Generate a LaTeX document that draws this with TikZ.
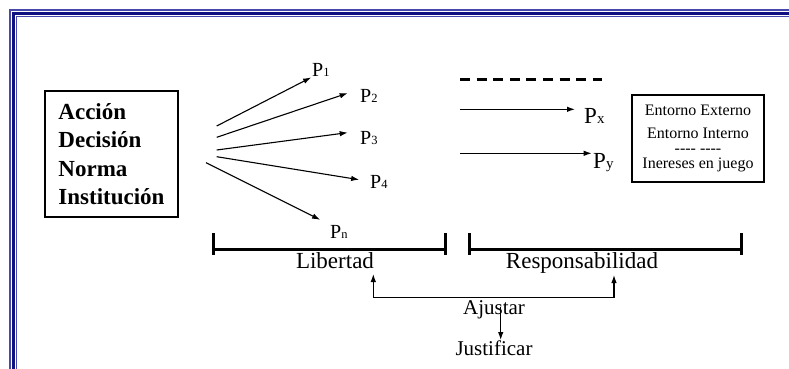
\documentclass[tikz,border=0pt]{standalone}
\usepackage{fontspec}
\setmainfont{Liberation Serif}
\usetikzlibrary{arrows.meta}
\definecolor{framenavy}{RGB}{16,16,128}
\definecolor{framelite}{RGB}{72,72,170}
\newcommand\psub[2][12.5]{{\fontsize{#1}{#1}\selectfont #2}}
\tikzset{
  >={Latex[length=8pt,width=5.5pt]},
  link/.style={->,line width=1.1pt},
  plabel/.style={inner sep=0pt,anchor=base west,font=\fontsize{20}{20}\selectfont},
  bigp/.style={plabel,font=\fontsize{23}{23}\selectfont},
  wlabel/.style={inner sep=0pt,anchor=base,font=\fontsize{23}{23}\selectfont},
  slabel/.style={wlabel,font=\fontsize{21}{21}\selectfont},
  srcbox/.style={draw,line width=1.3pt,inner sep=0pt,minimum width=133pt,minimum height=126pt,
    align=left,font=\bfseries\fontsize{23}{28.3}\selectfont},
  envbox/.style={draw,line width=1.3pt,inner sep=0pt,minimum width=132pt,minimum height=87pt,
    align=center,font=\fontsize{16}{23.3}\selectfont},
  bar/.style={line width=3pt}
}
\begin{document}
\begin{tikzpicture}[x=1pt,y=-1pt]
\useasboundingbox (0,0) rectangle (789,369);
\draw[framelite,line width=2pt] (10,369)--(10,10)--(789,10);
\draw[framenavy,line width=3.5pt] (13.6,369)--(13.6,13.6)--(789,13.6);
\draw[framelite,line width=1.3pt] (16.8,369)--(16.8,16.8)--(789,16.8);

\node[srcbox] (src) at (111.5,154) {Acción\\Decisión\\Norma\\Institución};
\node[envbox] (env) at (698,138.5) {Entorno Externo\\Entorno Interno\\[-8.3pt]{-}{-}{-}{-} {-}{-}{-}{-}\\[-8.3pt]Inereses en juego};

\node[plabel] (p1) at (312,77) {P\psub{1}};
\node[plabel] (p2) at (360,102.3) {P\psub{2}};
\node[plabel] (p3) at (360,144.3) {P\psub{3}};
\node[plabel] (p4) at (370,188) {P\psub{4}};
\node[plabel] (pn) at (330,238) {P\psub{n}};
\node[bigp] (px) at (584,123) {P\psub[15]{x}};
\node[bigp] (py) at (593,168) {P\psub[15]{y}};

\foreach \n/\x/\y in {1/216.7/126,2/216.7/137.3,3/216.7/150,4/216.7/156.7,n/206/162.7}{
  \coordinate (s\n) at (\x,\y);
}
\foreach \n/\a/\s in {1/base west/1,2/north west/13,3/north west/12.4,4/west/11,n/north west/11}{
  \draw[link,shorten >=\s pt] (s\n) -- (p\n.\a);
}
\coordinate (sx) at (460,109.3);
\coordinate (sy) at (460,153.3);
\draw[link,shorten >=9pt] (sx) -- (sx -| px.west);
\draw[link,shorten >=1.3pt] (sy) -- (sy -| py.west);
\draw[line width=3pt,dash pattern=on 10pt off 6.6pt] (460,79) -- (602,79);

\foreach \a/\b in {213/445,469.3/741.7}{
  \draw[bar] (\a,233) -- (\a,255) (\a,249.3) -- (\b,249.3) (\b,233) -- (\b,255);
}
\node[wlabel] (lib) at (335,268) {Libertad};
\node[wlabel] (resp) at (582,268) {Responsabilidad};
\node[slabel] (adj) at (494,314) {Ajustar};
\node[slabel] (jus) at (494,355) {Justificar};

\coordinate (fbl) at (373.3,297.3);
\coordinate (fbr) at (614,297.3);
\draw[<->,line width=1.1pt,shorten <=6pt,shorten >=7pt] (fbl |- lib.base) -- (fbl) -- (fbr) -- (fbr |- resp.base);
\draw[link] ([xshift=6.7pt,yshift=7pt]adj.base) -- ([xshift=6.7pt]jus.north);
\end{tikzpicture}
\end{document}
